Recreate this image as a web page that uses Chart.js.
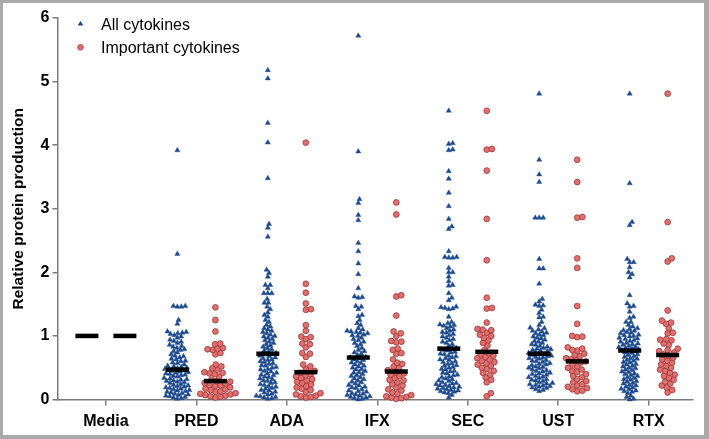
<!DOCTYPE html>
<html>
<head>
<meta charset="utf-8">
<script src="https://cdn.jsdelivr.net/npm/chart.js@4.4.1/dist/chart.umd.min.js"></script>
<style>
  html, body { margin: 0; padding: 0; background: #fff; }
  #wrap { position: relative; width: 709px; height: 439px; }
  #frame { position: absolute; left: 0; top: 0; width: 709px; height: 439px; box-sizing: border-box;
           border-style: solid; border-color: #a9a9a9; border-width: 3px 5px 4px 3px; pointer-events: none; }
</style>
</head>
<body>
<div id="wrap">
  <canvas id="chart" width="709" height="439"></canvas>
  <div id="frame"></div>
</div>
<script>
// groups on the x axis
const categories = ["Media", "PRED", "ADA", "IFX", "SEC", "UST", "RTX"];
const yTicks = [0, 1, 2, 3, 4, 5, 6];

// median bars
const medianAll = [1.00, 0.47, 0.72, 0.66, 0.80, 0.72, 0.77];
const medianImportant = [1.00, 0.29, 0.43, 0.44, 0.75, 0.60, 0.70];

// "All cytokines" values per group
const allMedia = [];
const allPRED = [3.92, 2.29, 1.47, 1.47, 1.46, 1.46, 1.25, 1.19,
  1.07, 1.06, 1.05, 1.04, 1.03, 1.01, 0.99, 0.97, 0.94, 0.92, 0.91, 0.89, 0.86, 0.84, 0.83, 0.81, 0.79,
  0.78, 0.76, 0.74, 0.71, 0.69, 0.68, 0.66, 0.64, 0.63, 0.61, 0.60, 0.58, 0.57, 0.55, 0.53, 0.52, 0.51, 0.50, 0.49, 0.48,
  0.47, 0.46, 0.45, 0.44, 0.43, 0.42, 0.41, 0.40, 0.39, 0.38, 0.37, 0.36, 0.34, 0.33, 0.32, 0.31, 0.30, 0.29,
  0.28, 0.27, 0.26, 0.24, 0.23, 0.22, 0.21, 0.20, 0.19, 0.18, 0.17, 0.16, 0.15, 0.14, 0.13, 0.12, 0.11, 0.10, 0.09,
  0.08, 0.07, 0.06, 0.05, 0.04, 0.03, 0.02, 0.01];
const allADA = [5.18, 5.05, 4.35, 4.04, 3.48, 2.76, 2.70, 2.56, 2.04, 1.99, 1.93, 1.80, 1.80, 1.75, 1.67, 1.67, 1.67, 1.58,
  1.52, 1.52, 1.46, 1.42, 1.37, 1.33, 1.30, 1.25, 1.22, 1.17, 1.15, 1.12,
  1.10, 1.08, 1.06, 1.04, 1.02, 1.00, 0.99, 0.97, 0.95, 0.93, 0.91, 0.89, 0.87, 0.85, 0.83, 0.81, 0.79, 0.77, 0.75, 0.73,
  0.72, 0.71, 0.69, 0.68, 0.66, 0.65, 0.63, 0.62, 0.60, 0.59, 0.57, 0.56, 0.54, 0.53, 0.51, 0.50, 0.48, 0.47, 0.45, 0.44,
  0.42, 0.41, 0.39, 0.38, 0.36, 0.35, 0.33, 0.32, 0.30, 0.29, 0.27, 0.26, 0.24, 0.23, 0.21, 0.20, 0.18, 0.17, 0.15, 0.14,
  0.12, 0.11, 0.09, 0.08, 0.06, 0.05, 0.04, 0.03, 0.02, 0.01];
const allIFX = [5.72, 3.90, 3.15, 3.09, 2.90, 2.82, 2.46, 2.33, 2.14, 1.97, 1.75, 1.62, 1.61, 1.60, 1.47, 1.46, 1.42, 1.33,
  1.31, 1.25, 1.20, 1.17,
  1.12, 1.10, 1.08, 1.07, 1.06, 1.05, 1.04, 1.02, 1.01, 1.00, 0.97, 0.95, 0.93, 0.91, 0.89, 0.87,
  0.84, 0.81, 0.78, 0.76, 0.74, 0.72, 0.70, 0.67,
  0.66, 0.65, 0.63, 0.62, 0.60, 0.58, 0.57, 0.55, 0.53, 0.52, 0.50, 0.48, 0.47, 0.45, 0.43, 0.42, 0.40, 0.38, 0.37, 0.35,
  0.33, 0.32, 0.30, 0.28, 0.27, 0.25, 0.23, 0.22, 0.20, 0.19, 0.18, 0.16, 0.14, 0.13, 0.12, 0.10, 0.09,
  0.08, 0.07, 0.06, 0.05, 0.04, 0.03, 0.02, 0.01, 0.00];
const allSEC = [4.54, 4.03, 4.02, 3.93, 3.92, 3.59, 3.47, 3.25, 3.04, 2.84, 2.72, 2.68, 2.33, 2.24, 2.24, 2.23, 2.23, 2.07,
  2.00, 2.00, 1.93, 1.86, 1.80, 1.79, 1.67, 1.60, 1.56, 1.46, 1.45, 1.44, 1.43, 1.42, 1.30, 1.22, 1.20, 1.18, 1.17, 1.16, 1.15,
  1.12, 1.10, 1.08, 1.06, 1.05, 1.03, 1.01, 0.99, 0.97, 0.95, 0.93, 0.91, 0.89, 0.87, 0.84, 0.81,
  0.80, 0.78, 0.77, 0.75, 0.74, 0.72, 0.71, 0.69, 0.68, 0.66, 0.65, 0.63, 0.62, 0.60, 0.59, 0.57, 0.56, 0.54, 0.53, 0.51,
  0.50, 0.48, 0.47, 0.45, 0.44, 0.42, 0.41, 0.39, 0.38, 0.36, 0.35, 0.33, 0.32, 0.30, 0.29, 0.27, 0.26, 0.25, 0.24, 0.23,
  0.22, 0.21, 0.20, 0.19, 0.18, 0.17, 0.16, 0.15, 0.14, 0.13, 0.12, 0.11, 0.10, 0.07, 0.03];
const allUST = [4.81, 3.77, 3.54, 3.42, 2.86, 2.86, 2.86, 2.21, 2.06, 2.06, 1.82, 1.58, 1.54, 1.49, 1.48, 1.47, 1.41, 1.36,
  1.30, 1.29, 1.22, 1.17, 1.13, 1.12,
  1.10, 1.08, 1.07, 1.05, 1.04, 1.02, 1.01, 0.99, 0.97, 0.96, 0.94, 0.92, 0.91, 0.89, 0.87, 0.86, 0.84, 0.83, 0.81, 0.80,
  0.79, 0.78, 0.77, 0.76, 0.74, 0.73,
  0.72, 0.71, 0.70, 0.69, 0.68, 0.67, 0.66, 0.65, 0.64, 0.62, 0.61, 0.60, 0.59, 0.57, 0.56, 0.55, 0.54, 0.52, 0.51, 0.50,
  0.49, 0.47, 0.46, 0.45, 0.44, 0.42, 0.41, 0.40, 0.39, 0.37, 0.36, 0.35, 0.34, 0.32, 0.31, 0.30, 0.29, 0.27, 0.26, 0.25,
  0.24, 0.23, 0.22, 0.21, 0.20, 0.19, 0.18, 0.16, 0.15, 0.13];
const allRTX = [4.81, 3.40, 2.79, 2.74, 2.21, 2.16, 2.16, 2.08, 2.00, 1.97, 1.92, 1.64, 1.51, 1.47, 1.46, 1.38, 1.30, 1.28,
  1.22, 1.22, 1.17, 1.15,
  1.12, 1.11, 1.09, 1.08, 1.06, 1.05, 1.04, 1.02, 1.01, 1.00, 0.99, 0.97, 0.96, 0.95, 0.93, 0.92, 0.91, 0.89, 0.88, 0.87,
  0.86, 0.84, 0.83, 0.82, 0.81, 0.80, 0.79, 0.78,
  0.77, 0.76, 0.74, 0.73, 0.71, 0.70, 0.68, 0.67, 0.65, 0.64, 0.62, 0.61, 0.59, 0.58, 0.56, 0.55, 0.53, 0.52, 0.50, 0.49,
  0.47, 0.46, 0.44, 0.43, 0.41, 0.40, 0.38, 0.37, 0.35, 0.34, 0.32, 0.31, 0.29, 0.28, 0.26, 0.25, 0.23, 0.22, 0.20, 0.19,
  0.17, 0.16, 0.14, 0.13, 0.12, 0.10, 0.06, 0.04, 0.01, 0.00];

// "Important cytokines" values per group
const impMedia = [];
const impPRED = [1.45, 1.25, 1.07, 0.88, 0.87, 0.81, 0.80, 0.79, 0.78, 0.73, 0.71, 0.55, 0.52, 0.49, 0.47, 0.43, 0.42, 0.41,
  0.40, 0.36, 0.31, 0.29, 0.28, 0.26, 0.25, 0.23, 0.22, 0.21, 0.19, 0.17, 0.16, 0.15, 0.13, 0.12, 0.10, 0.09, 0.08, 0.07,
  0.06, 0.05, 0.04, 0.03];
const impADA = [4.04, 1.82, 1.68, 1.51, 1.42, 1.41, 1.17, 1.08, 0.99, 0.98, 0.95, 0.88, 0.87, 0.82, 0.73, 0.72, 0.67, 0.55,
  0.52, 0.48, 0.45, 0.42, 0.40, 0.38, 0.36, 0.34, 0.32, 0.30, 0.28, 0.26, 0.24, 0.21, 0.19, 0.17, 0.15, 0.12, 0.10, 0.08,
  0.06, 0.05, 0.04, 0.03];
const impIFX = [3.10, 2.91, 1.64, 1.62, 1.32, 1.07, 1.04, 1.00, 0.92, 0.91, 0.90, 0.80, 0.78, 0.73, 0.72, 0.63, 0.58, 0.56,
  0.52, 0.50, 0.46, 0.43, 0.41, 0.39, 0.37, 0.34, 0.31, 0.30, 0.27, 0.24, 0.22, 0.19, 0.16, 0.14, 0.11, 0.09, 0.07, 0.05,
  0.04, 0.03, 0.02, 0.01];
const impSEC = [4.54, 3.94, 3.93, 3.60, 2.84, 2.19, 1.60, 1.44, 1.43, 1.21, 1.11, 1.10, 1.09, 1.05, 1.02, 1.00, 0.97, 0.93,
  0.89, 0.85, 0.78, 0.73, 0.71, 0.69, 0.67, 0.65, 0.63, 0.61, 0.59, 0.57, 0.55, 0.53, 0.50, 0.48, 0.45, 0.42, 0.39, 0.35,
  0.31, 0.27, 0.10, 0.05];
const impUST = [3.77, 3.42, 2.87, 2.86, 2.22, 2.07, 1.47, 1.19, 1.00, 0.99, 0.98, 0.82, 0.80, 0.78, 0.77, 0.72, 0.70, 0.68,
  0.65, 0.63, 0.62, 0.60, 0.58, 0.55, 0.52, 0.50, 0.47, 0.45, 0.43, 0.40, 0.37, 0.35, 0.32, 0.29, 0.27, 0.24, 0.22, 0.20,
  0.18, 0.16, 0.14, 0.13];
const impRTX = [4.81, 2.79, 2.22, 2.17, 1.40, 1.24, 1.21, 1.19, 1.12, 1.05, 1.04, 0.95, 0.94, 0.93, 0.88, 0.86, 0.80, 0.78,
  0.76, 0.74, 0.71, 0.69, 0.66, 0.63, 0.61, 0.58, 0.55, 0.53, 0.50, 0.47, 0.45, 0.42, 0.39, 0.37, 0.34, 0.31, 0.28, 0.25,
  0.22, 0.19, 0.15, 0.11];

const allGroups = [allMedia, allPRED, allADA, allIFX, allSEC, allUST, allRTX];
const impGroups = [impMedia, impPRED, impADA, impIFX, impSEC, impUST, impRTX];

const BLUE = "#1f4b8e";
const RED_FILL = "#e06f6f";
const RED_EDGE = "#9c3535";
const AXIS = "#7a7a7a";

// pixel size of one unit on each axis, used only to spread the dots sideways
const PX_PER_X = 90.75;
const PX_PER_Y = 63.58;
const SIDE = 0.21;

// simple beeswarm: each dot goes as close to the column centre as it can without overlapping
function swarm(values, center, diameter) {
  const placed = [];
  const order = values.map((v, i) => i).sort((a, b) => values[a] - values[b]);
  const out = [];
  order.forEach(i => {
    const py = values[i] * PX_PER_Y;
    const cands = [0];
    placed.forEach(p => {
      const dy = Math.abs(p.y - py);
      if (dy < diameter) {
        const dx = Math.sqrt(diameter * diameter - dy * dy);
        cands.push(p.x + dx, p.x - dx);
      }
    });
    cands.sort((a, b) => Math.abs(a) - Math.abs(b));
    let px = 0;
    for (const c of cands) {
      if (placed.every(p => (p.x - c) ** 2 + (p.y - py) ** 2 >= diameter * diameter - 0.01)) { px = c; break; }
    }
    placed.push({ x: px, y: py });
    out.push({ x: center + px / PX_PER_X, y: values[i] });
  });
  return out;
}

const allPoints = [];
const impPoints = [];
allGroups.forEach((vals, i) => allPoints.push(...swarm(vals, i - SIDE, 4.0)));
impGroups.forEach((vals, i) => impPoints.push(...swarm(vals, i + SIDE, 5.2)));

const medianPoints = [];
categories.forEach((c, i) => {
  medianPoints.push({ x: i - SIDE, y: medianAll[i] });
  medianPoints.push({ x: i + SIDE, y: medianImportant[i] });
});

// legend drawn inside the plot, top left
const insideLegend = {
  id: "insideLegend",
  afterDraw(chart) {
    const { ctx, chartArea } = chart;
    const mx = chartArea.left + 23;
    const tx = chartArea.left + 43.5;
    ctx.save();
    ctx.fillStyle = BLUE;
    ctx.beginPath();
    ctx.moveTo(mx, 24 - 3.2);
    ctx.lineTo(mx + 2.8, 24 + 1.6);
    ctx.lineTo(mx - 2.8, 24 + 1.6);
    ctx.closePath();
    ctx.fill();
    ctx.fillStyle = RED_FILL;
    ctx.strokeStyle = RED_EDGE;
    ctx.lineWidth = 0.8;
    ctx.beginPath();
    ctx.arc(mx, 47.3, 2.8, 0, Math.PI * 2);
    ctx.fill();
    ctx.stroke();
    ctx.fillStyle = "#000";
    ctx.font = "16px 'Liberation Sans', Arial, sans-serif";
    ctx.textBaseline = "alphabetic";
    ctx.fillText("All cytokines", tx, 29.5);
    ctx.fillText("Important cytokines", tx, 52.6);
    ctx.restore();
  }
};

const ctx = document.getElementById("chart").getContext("2d");
new Chart(ctx, {
  type: "scatter",
  data: {
    datasets: [
      {
        label: "Median",
        data: medianPoints,
        pointStyle: "line",
        pointRadius: 11.5,
        pointHoverRadius: 11.5,
        borderColor: "#000",
        backgroundColor: "#000",
        borderWidth: 4.5,
        clip: false
      },
      {
        label: "All cytokines",
        data: allPoints,
        pointStyle: "triangle",
        pointRadius: 3.0,
        backgroundColor: BLUE,
        borderColor: BLUE,
        borderWidth: 0.4,
        clip: false
      },
      {
        label: "Important cytokines",
        data: impPoints,
        pointStyle: "circle",
        pointRadius: 2.9,
        backgroundColor: RED_FILL,
        borderColor: RED_EDGE,
        borderWidth: 0.8,
        clip: false
      }
    ]
  },
  options: {
    responsive: false,
    animation: false,
    events: [],
    layout: { padding: { top: 18, right: 14, left: 0, bottom: 0 } },
    plugins: {
      legend: { display: false },
      tooltip: { enabled: false }
    },
    scales: {
      x: {
        type: "linear",
        min: -0.535,
        max: 6.49,
        afterBuildTicks: scale => { scale.ticks = categories.map((c, i) => ({ value: i })); },
        afterFit: scale => { scale.height = 39.5; },
        ticks: {
          autoSkip: false,
          maxRotation: 0,
          padding: 6,
          color: "#000",
          font: { family: "'Liberation Sans', Arial, sans-serif", size: 16, weight: "bold" },
          callback: value => categories[value]
        },
        grid: { drawOnChartArea: false, drawTicks: true, tickLength: 6, color: AXIS, lineWidth: 1.5 },
        border: { color: AXIS, width: 1.5 }
      },
      y: {
        min: 0,
        max: 6,
        afterBuildTicks: scale => { scale.ticks = yTicks.map(v => ({ value: v })); },
        afterFit: scale => { scale.width = 57.5; },
        ticks: {
          padding: 3,
          color: "#000",
          font: { family: "'Liberation Sans', Arial, sans-serif", size: 16, weight: "bold" }
        },
        grid: { drawOnChartArea: false, drawTicks: true, tickLength: 5, color: AXIS, lineWidth: 1.5 },
        border: { color: AXIS, width: 1.5 },
        title: {
          display: true,
          text: "Relative protein production",
          color: "#000",
          font: { family: "'Liberation Sans', Arial, sans-serif", size: 15.5, weight: "bold" },
          padding: { top: 9, bottom: 0 }
        }
      }
    }
  },
  plugins: [insideLegend]
});
</script>
</body>
</html>
